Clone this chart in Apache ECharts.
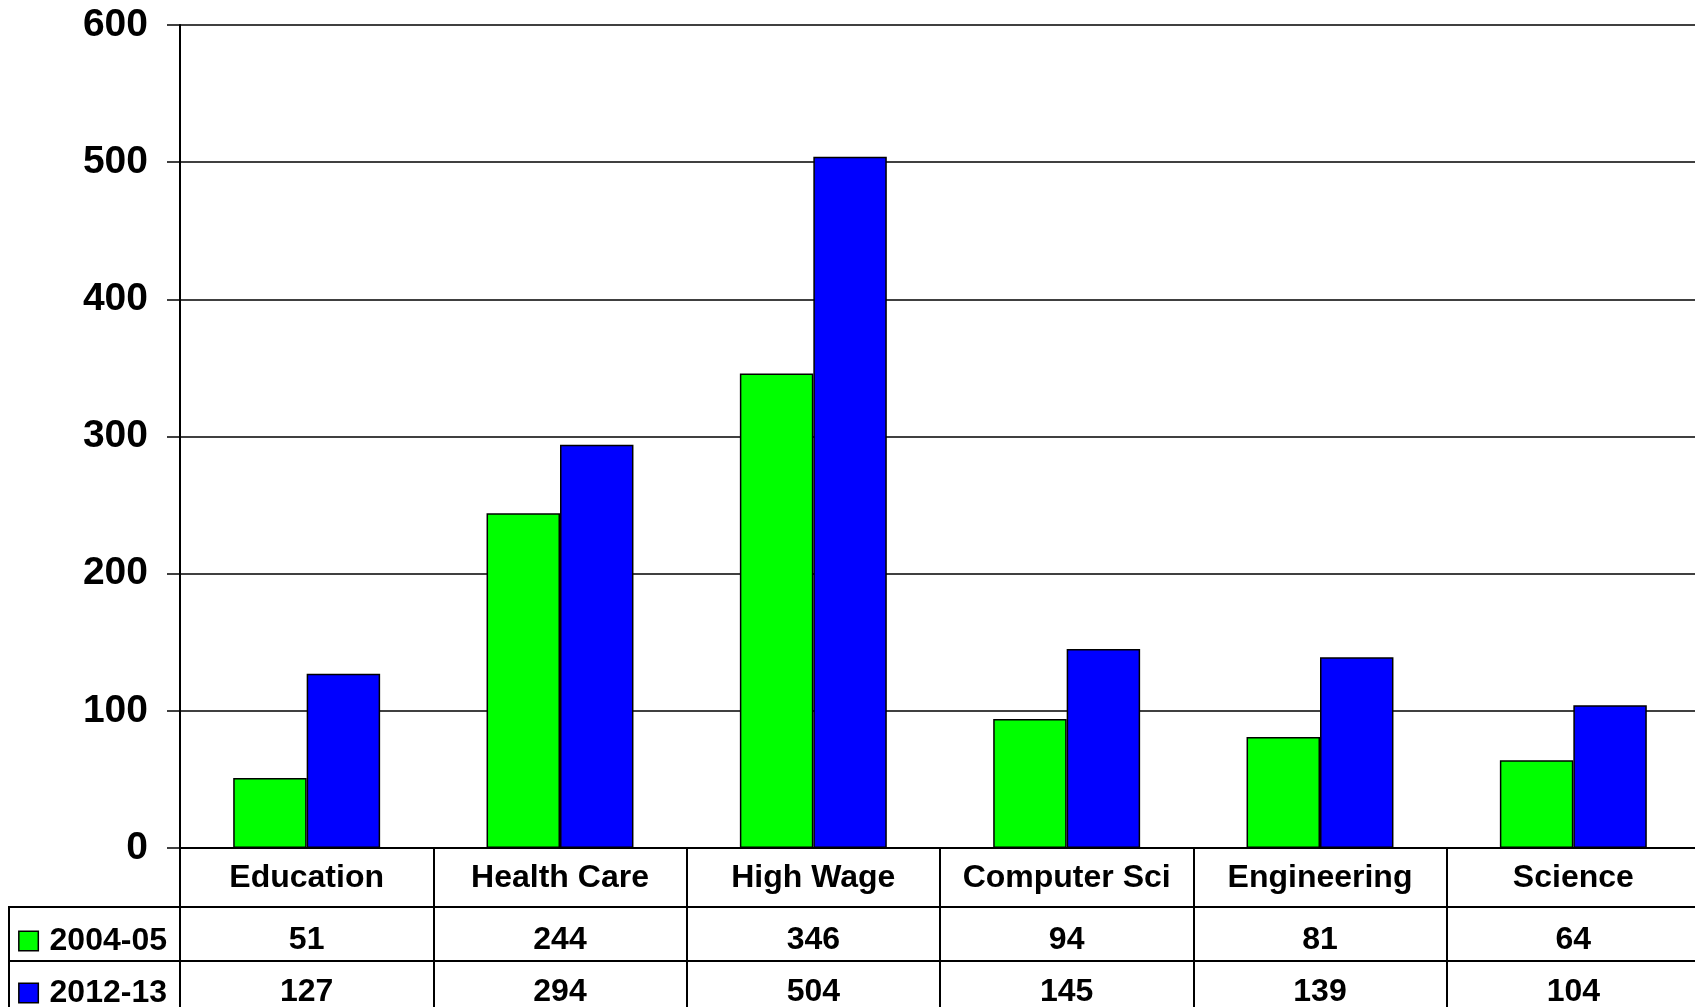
<!DOCTYPE html>
<html>
<head>
<meta charset="utf-8">
<script src="https://cdn.jsdelivr.net/npm/echarts@6/dist/echarts.min.js"></script>
<style>
  html, body { margin: 0; padding: 0; background: #fff; }
  #main { width: 1695px; height: 1007px; }
</style>
</head>
<body>
<div id="main"></div>
<script>
// data
const categories = ["Education", "Health Care", "High Wage", "Computer Sci", "Engineering", "Science"];
const years = ["2004-05", "2012-13"];
const values2004 = [51, 244, 346, 94, 81, 64];
const values2012 = [127, 294, 504, 145, 139, 104];
const yTicks = [0, 100, 200, 300, 400, 500, 600];

const font = "Liberation Sans, Arial, sans-serif";
const colors = ["#00ff00", "#0000ff"];

let chart = echarts.init(document.getElementById("main"));

// one table row under the chart: a grid with its own category axis
function rowAxes(idx, name, vals, color, labelMargin, legendShift) {
  return {
    x: {
      type: "category",
      gridIndex: idx,
      position: "top",
      data: vals.map(String),
      axisLine: { show: false },
      axisTick: { show: false },
      splitLine: { show: true, interval: 0, lineStyle: { color: "#000", width: 2 } },
      axisLabel: {
        inside: true, margin: labelMargin, verticalAlign: "middle", interval: 0,
        fontFamily: font, fontSize: 32, fontWeight: "bold", color: "#000"
      }
    },
    y: {
      type: "category",
      gridIndex: idx,
      data: [name],
      axisLine: { show: true, lineStyle: { color: "#000", width: 2 } },
      axisTick: { show: true, length: 171, interval: 0, lineStyle: { color: "#000", width: 2 } },
      axisLabel: {
        margin: 13,
        padding: [legendShift, 0, 0, 0],
        formatter: v => "{sq|}{t|" + v + "}",
        rich: {
          sq: { width: 18, height: 18, backgroundColor: color, borderColor: "#000", borderWidth: 1.5 },
          t: { padding: [0, 0, 0, 12], fontFamily: font, fontSize: 32, fontWeight: "bold", color: "#000" }
        }
      }
    }
  };
}

const row1 = rowAxes(1, years[0], values2004, colors[0], 33, 14);
const row2 = rowAxes(2, years[1], values2012, colors[1], 31, 14);

// the plot runs a few pixels past the right edge of the picture
const plotLeft = 180;
const plotWidth = 1520;

let option = {
  animation: false,
  backgroundColor: "#fff",
  grid: [
    { left: plotLeft, width: plotWidth, top: 25, bottom: 159, outerBoundsMode: "none" },
    { left: plotLeft, width: plotWidth, top: 907, height: 54, outerBoundsMode: "none",
      show: true, borderColor: "#000", borderWidth: 2 },
    // last row runs past the bottom of the picture
    { left: plotLeft, width: plotWidth, top: 961, height: 50, outerBoundsMode: "none",
      show: true, borderColor: "#000", borderWidth: 2 }
  ],
  xAxis: [
    {
      type: "category",
      gridIndex: 0,
      data: categories,
      axisLine: { lineStyle: { color: "#000", width: 2 } },
      axisTick: { show: true, length: 59, interval: 0, lineStyle: { color: "#000", width: 2 } },
      axisLabel: {
        margin: 30, verticalAlign: "middle", interval: 0,
        fontFamily: font, fontSize: 32, fontWeight: "bold", color: "#000"
      }
    },
    row1.x,
    row2.x
  ],
  yAxis: [
    {
      type: "value",
      gridIndex: 0,
      min: yTicks[0],
      max: yTicks[yTicks.length - 1],
      interval: 100,
      axisLine: { show: true, lineStyle: { color: "#000", width: 2 } },
      axisTick: { show: true, length: 13, lineStyle: { color: "#000", width: 1.5 } },
      splitLine: { show: true, lineStyle: { color: "#000", width: 1.5 } },
      axisLabel: {
        margin: 32,
        padding: [4, 0, 0, 0],
        fontFamily: font, fontSize: 39, fontWeight: "bold", color: "#000"
      }
    },
    row1.y,
    row2.y
  ],
  graphic: [
    // outer left edge of the legend column
    { type: "line", shape: { x1: 9, y1: 906, x2: 9, y2: 1012 }, style: { stroke: "#000", lineWidth: 2 } }
  ],
  series: [
    {
      name: years[0],
      type: "bar",
      xAxisIndex: 0,
      yAxisIndex: 0,
      data: values2004,
      barGap: "0%",
      barCategoryGap: "42%",
      itemStyle: { color: colors[0], borderColor: "#000", borderWidth: 1.5 }
    },
    {
      name: years[1],
      type: "bar",
      xAxisIndex: 0,
      yAxisIndex: 0,
      data: values2012,
      barGap: "0%",
      barCategoryGap: "42%",
      itemStyle: { color: colors[1], borderColor: "#000", borderWidth: 1.5 }
    }
  ]
};

chart.setOption(option);
</script>
</body>
</html>
